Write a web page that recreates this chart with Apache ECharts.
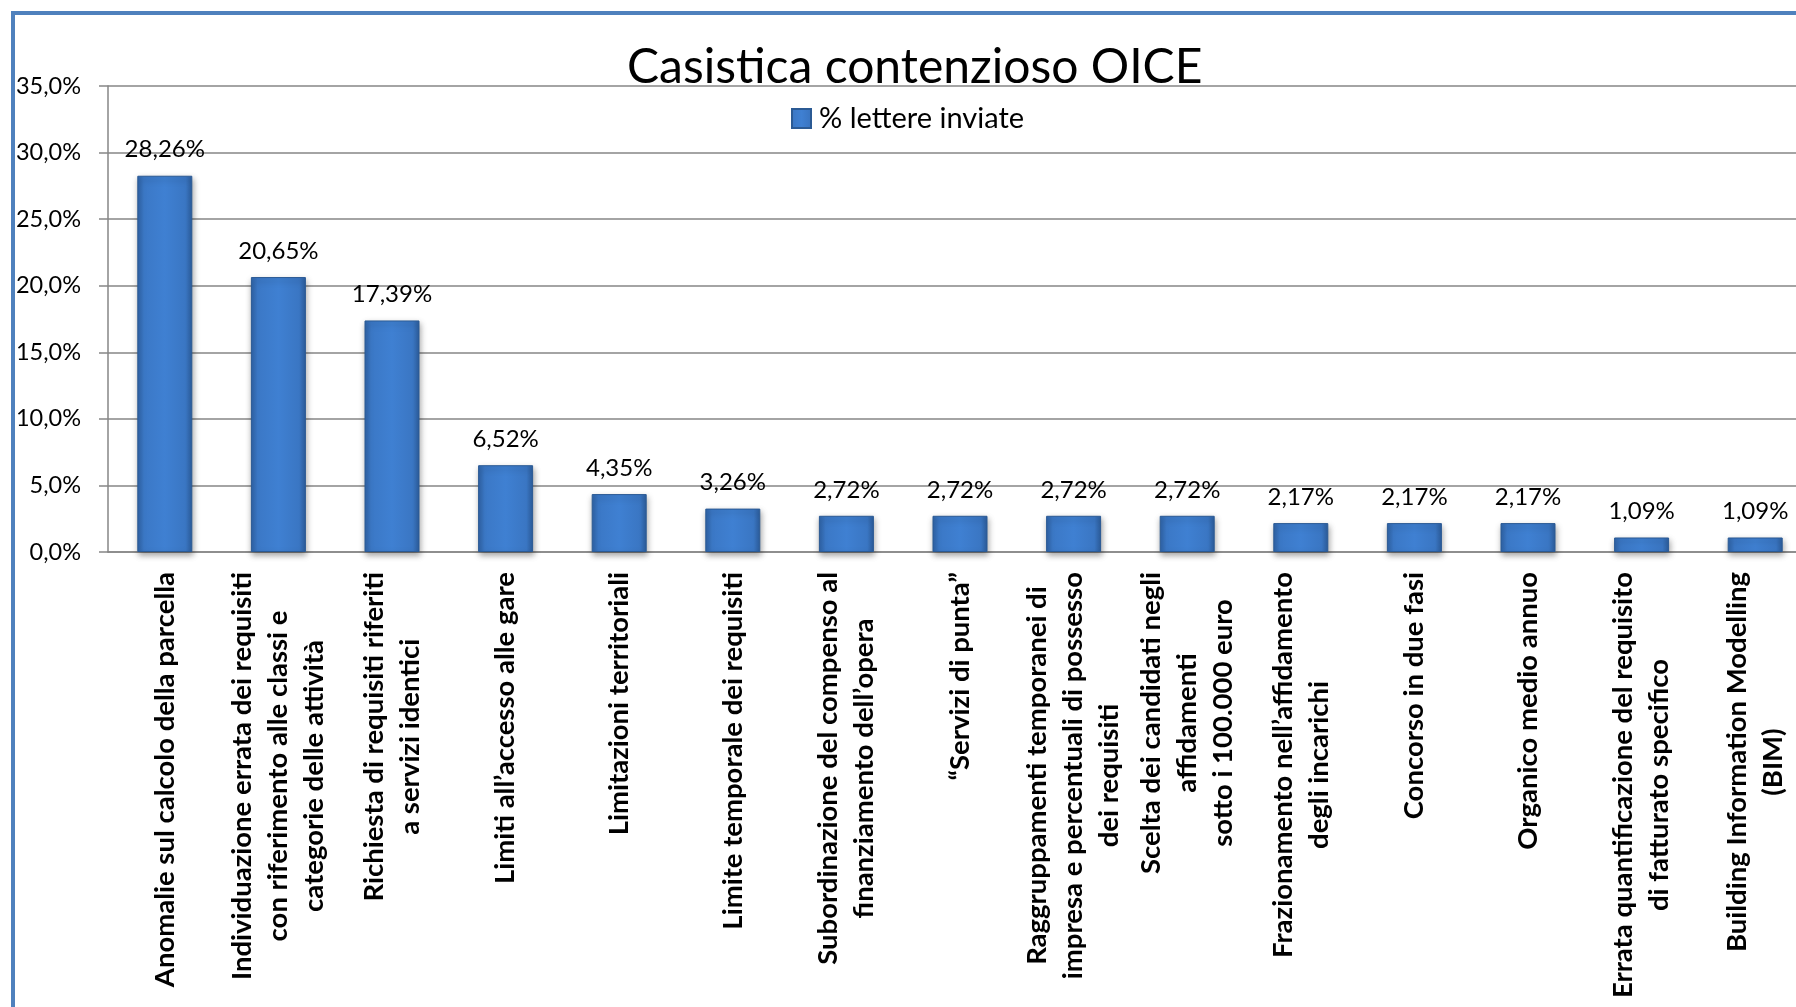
<!DOCTYPE html>
<html>
<head>
<meta charset="utf-8">
<script src="https://cdn.jsdelivr.net/npm/echarts@6/dist/echarts.min.js"></script>
<style>
	html, body { margin: 0; padding: 0; background: #ffffff; }
	#chart { width: 1796px; height: 1007px; }
</style>
</head>
<body>
<div id="chart"></div>
<script>
	// dati
	var categorie = [
		'Anomalie sul calcolo della parcella',
		'Individuazione errata dei requisiti\ncon riferimento alle classi e\ncategorie delle attività',
		'Richiesta di requisiti riferiti\na servizi identici',
		'Limiti all’accesso alle gare',
		'Limitazioni territoriali',
		'Limite temporale dei requisiti',
		'Subordinazione del compenso al\nfinanziamento dell’opera',
		'“Servizi di punta”',
		'Raggruppamenti temporanei di\nimpresa e percentuali di possesso\ndei requisiti',
		'Scelta dei candidati negli\naffidamenti\nsotto i 100.000 euro',
		'Frazionamento nell’affidamento\ndegli incarichi',
		'Concorso in due fasi',
		'Organico medio annuo',
		'Errata quantificazione del requisito\ndi fatturato specifico',
		'Building Information Modelling\n(BIM)'
	];
	var lettereInviate = [28.26, 20.65, 17.39, 6.52, 4.35, 3.26, 2.72, 2.72, 2.72, 2.72, 2.17, 2.17, 2.17, 1.09, 1.09];
	var nomeSerie = '% lettere inviate';
	var titolo = 'Casistica contenzioso OICE';

	// barra "3D" come in Excel: bordi scuri, centro chiaro
	var coloreBarra = new echarts.graphic.LinearGradient(0, 0, 1, 0, [
		{ offset: 0, color: '#2f63a6' },
		{ offset: 0.12, color: '#3b78c6' },
		{ offset: 0.5, color: '#3f80d2' },
		{ offset: 0.88, color: '#3a76c3' },
		{ offset: 1, color: '#2c5d9c' }
	]);

	var chart = echarts.init(document.getElementById('chart'));
	var option = {
		backgroundColor: '#ffffff',
		animation: false,
		textStyle: { fontFamily: 'Lato' },
		title: {
			text: titolo,
			left: 627,
			top: 44,
			padding: 0,
			textStyle: { fontFamily: 'Lato', fontSize: 48, fontWeight: 'normal', color: '#000000' }
		},
		legend: {
			data: [nomeSerie],
			left: 791,
			top: 104,
			padding: 0,
			itemWidth: 19,
			itemHeight: 19,
			itemGap: 6,
			icon: 'rect',
			textStyle: { fontFamily: 'Lato', fontSize: 29, color: '#000000', padding: [0, 0, 0, 3] }
		},
		graphic: [{
			type: 'rect',
			z: 100,
			shape: { x: 13, y: 13, width: 2000, height: 2000 },
			style: { fill: 'none', stroke: '#4f81bd', lineWidth: 4 }
		}],
		grid: {
			left: 108,
			width: 1704,
			top: 86,
			height: 466,
			outerBoundsMode: 'none'
		},
		xAxis: {
			type: 'category',
			data: categorie,
			axisLine: { lineStyle: { color: '#868686', width: 1.5 } },
			axisTick: { length: 10, lineStyle: { color: '#868686', width: 1.5 } },
			axisLabel: {
				rotate: 90,
				interval: 0,
				margin: 20,
				formatter: function (v) {
					return v.split('\n').map(function (r) { return '{c|' + r + '}'; }).join('\n');
				},
				rich: {
					c: {
						align: 'center',
						fontFamily: 'Lato',
						fontWeight: 'bold',
						fontSize: 27.5,
						lineHeight: 36,
						color: '#000000'
					}
				}
			}
		},
		yAxis: {
			type: 'value',
			min: 0,
			max: 35,
			interval: 5,
			axisLine: { show: true, lineStyle: { color: '#868686', width: 1.5 } },
			axisTick: { show: true, length: 9, lineStyle: { color: '#868686', width: 1.5 } },
			splitLine: { lineStyle: { color: '#868686', width: 1.5 } },
			axisLabel: {
				margin: 27,
				fontFamily: 'Lato',
				fontSize: 23.5,
				color: '#000000',
				formatter: function (v) { return v.toFixed(1).replace('.', ',') + '%'; }
			}
		},
		series: [{
			name: nomeSerie,
			type: 'bar',
			data: lettereInviate,
			barWidth: 55,
			itemStyle: {
				color: coloreBarra,
				borderColor: '#2b5a94',
				borderWidth: 1,
				shadowColor: 'rgba(0,0,0,0.35)',
				shadowBlur: 6,
				shadowOffsetX: 1,
				shadowOffsetY: 3
			},
			label: {
				show: true,
				position: 'top',
				distance: 14,
				fontFamily: 'Lato',
				fontSize: 24,
				color: '#000000',
				formatter: function (p) { return p.value.toFixed(2).replace('.', ',') + '%'; }
			}
		}]
	};
	chart.setOption(option);
</script>
</body>
</html>
